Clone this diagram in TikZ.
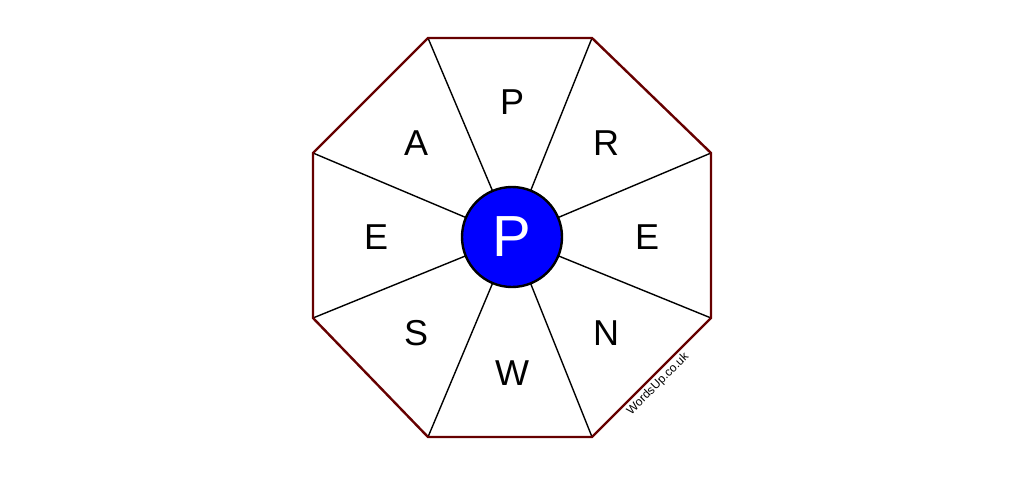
\documentclass[tikz,border=0pt]{standalone}
\usepackage{fontspec}
\setmainfont{Liberation Sans}
\definecolor{octred}{RGB}{102,0,0}
\definecolor{hubblue}{RGB}{0,0,255}
\begin{document}
\begin{tikzpicture}[x=1pt,y=-1pt,
  spoke/.style={draw=black,line width=1.4pt},
  rim/.style={draw=octred,line width=2.4pt,line join=miter},
  letter/.style={font=\fontsize{36}{36}\selectfont,text=black,inner sep=0pt},
  hub/.style={circle,draw=black,fill=hubblue,line width=2.4pt,minimum size=100pt,inner sep=0pt,text=white,font=\fontsize{58}{58}\selectfont}]
\useasboundingbox (0,0) rectangle (1024,476);
\coordinate (c) at (512,237);
\coordinate (v1) at (428,38);
\coordinate (v2) at (592,38);
\coordinate (v3) at (711,153);
\coordinate (v4) at (711,318);
\coordinate (v5) at (592,437);
\coordinate (v6) at (428,437);
\coordinate (v7) at (313,318);
\coordinate (v8) at (313,153);
\foreach \v in {v1,v2,v3,v4,v5,v6,v7,v8} \draw[spoke] (c) -- (\v);
\draw[rim] (v1) -- (v2) -- (v3) -- (v4) -- (v5) -- (v6) -- (v7) -- (v8) -- cycle;
\node[hub] (h) at (c) {P};
\node[letter] (l1) at (512,102) {P};
\node[letter] (l2) at (606,143) {R};
\node[letter] (l3) at (647,237) {E};
\node[letter] (l4) at (606,333) {N};
\node[letter] (l5) at (512,373) {W};
\node[letter] (l6) at (416,333) {S};
\node[letter] (l7) at (376,237) {E};
\node[letter] (l8) at (416,143) {A};
\node[rotate=45,font=\fontsize{12}{12}\selectfont,inner sep=0pt] (wm) at (658,384) {WordsUp.co.uk};
\end{tikzpicture}
\end{document}
